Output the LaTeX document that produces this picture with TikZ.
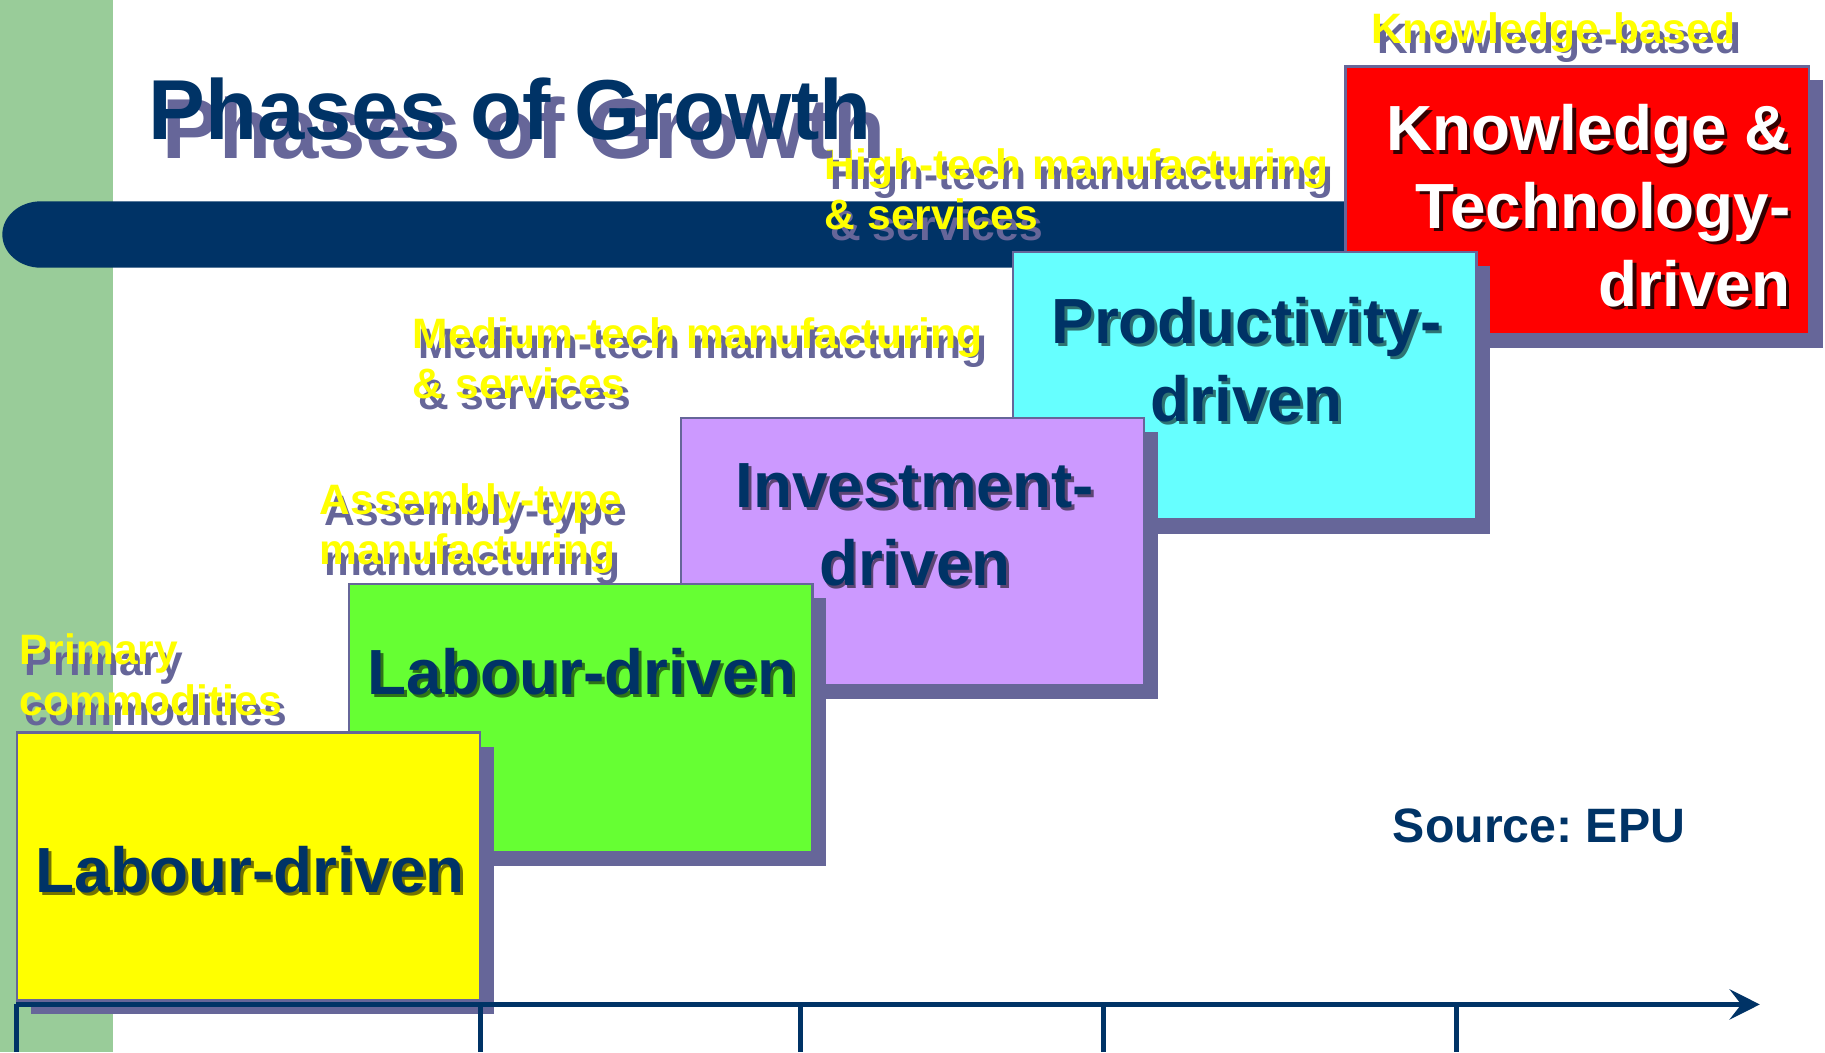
\documentclass[tikz,border=0pt]{standalone}
\usepackage{fontspec}
\setmainfont{Liberation Sans}
\usepackage{tikz}
\usetikzlibrary{arrows.meta,shadows}

\definecolor{navy}{HTML}{003366}
\definecolor{shade}{HTML}{666699}
\definecolor{stripgreen}{HTML}{99CC99}
\definecolor{tagyellow}{HTML}{FFFF00}
\definecolor{boxyellow}{HTML}{FFFF00}
\definecolor{boxgreen}{HTML}{66FF33}
\definecolor{boxlilac}{HTML}{CC99FF}
\definecolor{boxcyan}{HTML}{66FFFF}
\definecolor{boxred}{HTML}{FF0000}

\frenchspacing

\begin{document}
\begin{tikzpicture}[
  phasebox/.style={draw=shade, line width=0.6pt, minimum width=3.98cm,
    minimum height=2.3cm, inner sep=0pt,
    drop shadow={shadow xshift=0.12cm, shadow yshift=-0.12cm, fill=shade, opacity=1}},
  phasetext/.style={font=\fontsize{15.6}{19}\selectfont\bfseries, text=navy,
    align=center, inner sep=0pt},
  phaseshade/.style={phasetext, text=black, text opacity=0.55},
  tag/.style={font=\fontsize{10.4}{12.3}\selectfont\bfseries, text=tagyellow,
    align=left, inner sep=0pt, anchor=north west},
  tagshade/.style={tag, text=shade},
  axisline/.style={draw=navy, line width=1.2pt}
]
\useasboundingbox (0,0) rectangle (15.68,9.04);

% background strip and banner
\fill[stripgreen] (0,0) rectangle (0.97,9.04);
\fill[navy] (12,7.31) -- (0.35,7.31)
  arc[start angle=90, end angle=270, x radius=0.33, y radius=0.285] -- (12,6.74) -- cycle;

% the five phases, back to front
\node[phasebox, fill=boxred] (knowbox) at (13.55,7.32) {};
\node[phasebox, fill=boxcyan] (prodbox) at (10.695,5.725) {};
\node[phasebox, fill=boxlilac] (investbox) at (7.84,4.30) {};
\node[phasebox, fill=boxgreen] (labourbox) at (4.99,2.87) {};
\node[phasebox, fill=boxyellow] (primbox) at (2.135,1.595) {};

\node[phaseshade, anchor=base] (primtxt-s) at (2.175,1.345) {Labour-driven};
\node[phasetext, anchor=base] (primtxt) at (2.15,1.37) {Labour-driven};

\node[phaseshade, anchor=base] (labourtxt-s) at (5.025,3.045) {Labour-driven};
\node[phasetext, anchor=base] (labourtxt) at (5.00,3.07) {Labour-driven};

\node[phaseshade, anchor=north] (investtxt-s) at (7.885,5.035) {Investment-\\driven};
\node[phasetext, anchor=north] (investtxt) at (7.86,5.06) {Investment-\\driven};

\node[phaseshade, anchor=north] (prodtxt-s) at (10.735,6.465) {Productivity-\\driven};
\node[phasetext, anchor=north] (prodtxt) at (10.71,6.49) {Productivity-\\driven};

\node[phaseshade, text opacity=0.8, align=right, anchor=north east] (knowtxt-s) at (15.42,8.12) {Knowledge \&\\Technology-\\driven};
\node[phasetext, text=white, align=right, anchor=north east] (knowtxt) at (15.39,8.15) {Knowledge \&\\Technology-\\driven};

% sector labels
\node[tagshade] (prim-s) at (0.205,3.51) {Primary\\commodities};
\node[tag] (prim) at (0.16,3.60) {Primary\\commodities};

\node[tagshade] (asm-s) at (2.785,4.80) {Assembly-type\\manufacturing};
\node[tag] (asm) at (2.74,4.89) {Assembly-type\\manufacturing};

\node[tagshade] (med-s) at (3.585,6.23) {Medium-tech manufacturing\\\& services};
\node[tag] (med) at (3.54,6.32) {Medium-tech manufacturing\\\& services};

\node[tagshade] (high-s) at (7.125,7.68) {High-tech manufacturing\\\& services};
\node[tag] (high) at (7.08,7.77) {High-tech manufacturing\\\& services};

\node[tagshade] (know-s) at (11.825,8.85) {Knowledge-based};
\node[tag] (know) at (11.78,8.94) {Knowledge-based};

% title
\node[font=\fontsize{20.8}{24}\selectfont\bfseries, text=shade, anchor=base west, inner sep=0pt] (title-s) at (1.39,7.68) {Phases of Growth};
\node[font=\fontsize{20.8}{24}\selectfont\bfseries, text=navy, anchor=base west, inner sep=0pt] (title) at (1.27,7.84) {Phases of Growth};

\node[font=\fontsize{11.8}{14}\selectfont\bfseries, text=navy, anchor=base west, inner sep=0pt] (source) at (11.96,1.80) {Source: EPU};

% time axis
\coordinate (origin) at (0.14,0.41);
\coordinate (tip) at (15.12,0.41);
\draw[axisline, -{Stealth[length=2.6mm, width=2.6mm, inset=1mm]}] (origin) -- (tip);
\foreach \x [count=\i] in {0.14,4.13,6.88,9.48,12.51} {
  \coordinate (tick\i) at (\x,0.41);
  \draw[axisline] (tick\i) -- (\x,0);
}
\end{tikzpicture}
\end{document}
